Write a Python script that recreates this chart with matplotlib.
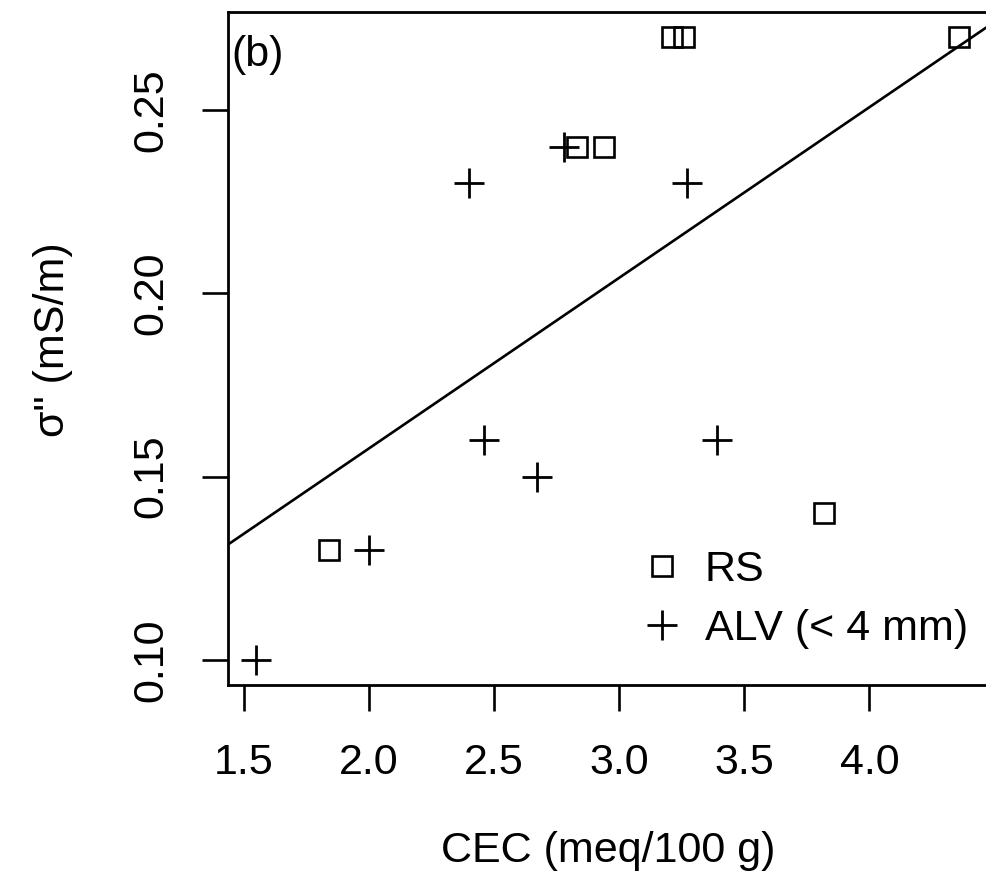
import numpy as np
import matplotlib
matplotlib.use("Agg")
import matplotlib.pyplot as plt

# Data
rs_cec = [3.21, 3.26, 4.36, 2.83, 2.94, 1.84, 3.82]
rs_sigma = [0.27, 0.27, 0.27, 0.24, 0.24, 0.13, 0.14]
alv_cec = [1.55, 2.00, 2.40, 2.46, 2.67, 2.78, 3.27, 3.39]
alv_sigma = [0.10, 0.13, 0.23, 0.16, 0.15, 0.24, 0.23, 0.16]
x_ticks = [1.5, 2.0, 2.5, 3.0, 3.5, 4.0]
y_ticks = [0.10, 0.15, 0.20, 0.25]

plt.rcParams['font.family'] = ['Liberation Sans', 'DejaVu Sans']
FS = 31

fig = plt.figure(figsize=(9.86, 8.86), dpi=100)
L, R, B, T = 228.3, 987.5, 684.9, 11.7
W, H = 986.0, 886.0
ax = fig.add_axes([L / W, 1 - B / H, (R - L) / W, (B - T) / H])

ax.plot(rs_cec, rs_sigma, linestyle='none', marker='s', markersize=14.5,
        markerfacecolor='none', markeredgecolor='black', markeredgewidth=1.9,
        label='RS')
ax.plot(alv_cec, alv_sigma, linestyle='none', marker='+', markersize=21,
        color='black', markeredgewidth=2.0, label='ALV (< 4 mm)')

all_x = np.array(rs_cec + alv_cec)
all_y = np.array(rs_sigma + alv_sigma)
slope, intercept = np.polyfit(all_x, all_y, 1)
ax.axline((0, intercept), slope=slope, color='black', linewidth=1.9)

xr = max(all_x) - min(all_x)
yr = max(all_y) - min(all_y)
ax.set_xlim(min(all_x) - 0.04 * xr, max(all_x) + 0.04 * xr)
ax.set_ylim(min(all_y) - 0.04 * yr, max(all_y) + 0.04 * yr)

ax.set_xticks(x_ticks)
ax.set_xticklabels([f"{v:.1f}" for v in x_ticks])
ax.set_yticks(y_ticks)
ax.set_yticklabels([f"{v:.2f}" for v in y_ticks], rotation=90, va='center')

ax.tick_params(axis='both', direction='out', length=18.7, width=1.9,
               labelsize=FS, color='black')
ax.tick_params(axis='x', pad=23)
ax.tick_params(axis='y', pad=22)

for s in ax.spines.values():
    s.set_linewidth(2.0)
ax.spines['right'].set_visible(False)

fig.text(608 / W, 1 - 851 / H, 'CEC (meq/100 g)', fontsize=FS,
         ha='center', va='center')
fig.text(53 / W, 1 - 340 / H, 'σ" (mS/m)', fontsize=FS, rotation=90,
         ha='center', va='center')

ax.text(0.004, 0.935, '(b)', transform=ax.transAxes, fontsize=FS,
        ha='left', va='center')

ax.legend(loc='upper left', bbox_to_anchor=(0.5427, 0.2005), frameon=False,
          fontsize=FS, handlelength=1.0, handletextpad=0.5, borderpad=0,
          borderaxespad=0, labelspacing=0.45, markerscale=1.0)

fig.savefig('out.png', dpi=100)
